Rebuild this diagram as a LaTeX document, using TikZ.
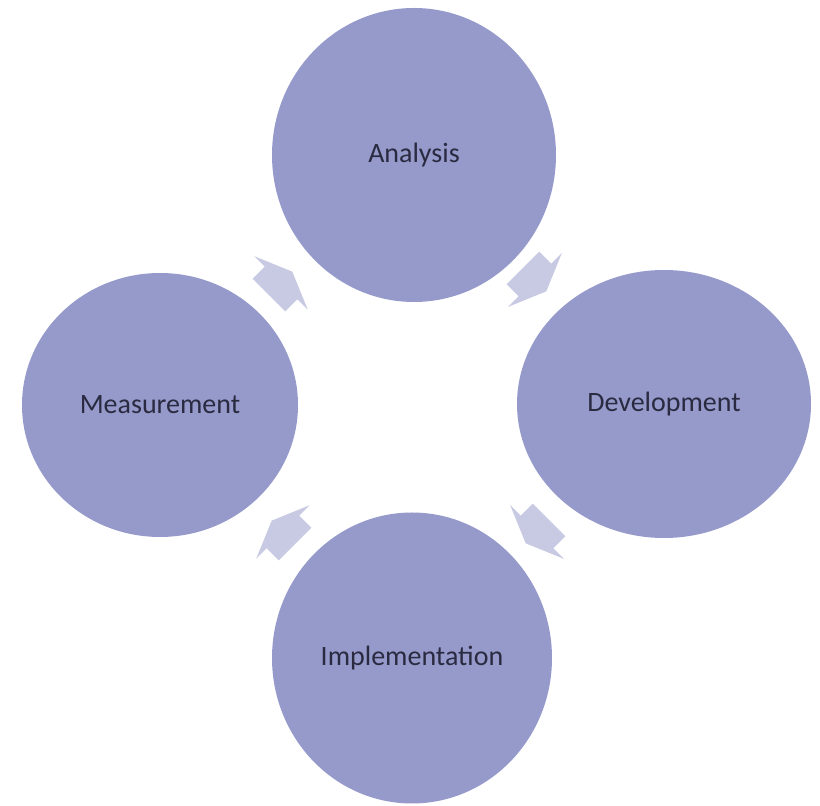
\documentclass[tikz,border=0pt]{standalone}
\usepackage{fontspec}
\setmainfont{Carlito}
\usetikzlibrary{shapes.geometric}
\definecolor{circfill}{HTML}{959ACB}
\definecolor{arrfill}{HTML}{C8CAE3}
\definecolor{txtcol}{HTML}{2A2A40}
\tikzset{
  stage/.style={ellipse, fill=circfill, draw=none, inner sep=0pt,
    font=\fontsize{28}{32}\selectfont, text=txtcol},
  cyclearrow/.style={fill=arrfill, draw=none}
}
\newcommand{\blockarrow}[2]{%
  \begin{scope}[shift={(#1)}, rotate=#2]
    \fill[cyclearrow] (-17,-23) -- (0,-23) -- (0,-38) -- (16,0) -- (0,38) -- (0,23) -- (-17,23) -- cycle;
  \end{scope}}
\begin{document}
\begin{tikzpicture}[x=1pt,y=1pt]
\useasboundingbox (0,0) rectangle (820,806);
\node[stage, minimum width=284, minimum height=294] (analysis) at (414,651) {Analysis};
\node[stage, minimum width=294, minimum height=268] (development) at (664,402) {Development};
\node[stage, minimum width=276, minimum height=264] (measurement) at (160,401) {Measurement};
\node[stage, minimum width=280, minimum height=291] (implementation) at (412,148) {Implementation};
\coordinate (a1) at (281,523);
\coordinate (a2) at (535,526);
\coordinate (a3) at (537,274);
\coordinate (a4) at (283,274);
\blockarrow{a1}{45}
\blockarrow{a2}{-45}
\blockarrow{a3}{-135}
\blockarrow{a4}{135}
\end{tikzpicture}
\end{document}
